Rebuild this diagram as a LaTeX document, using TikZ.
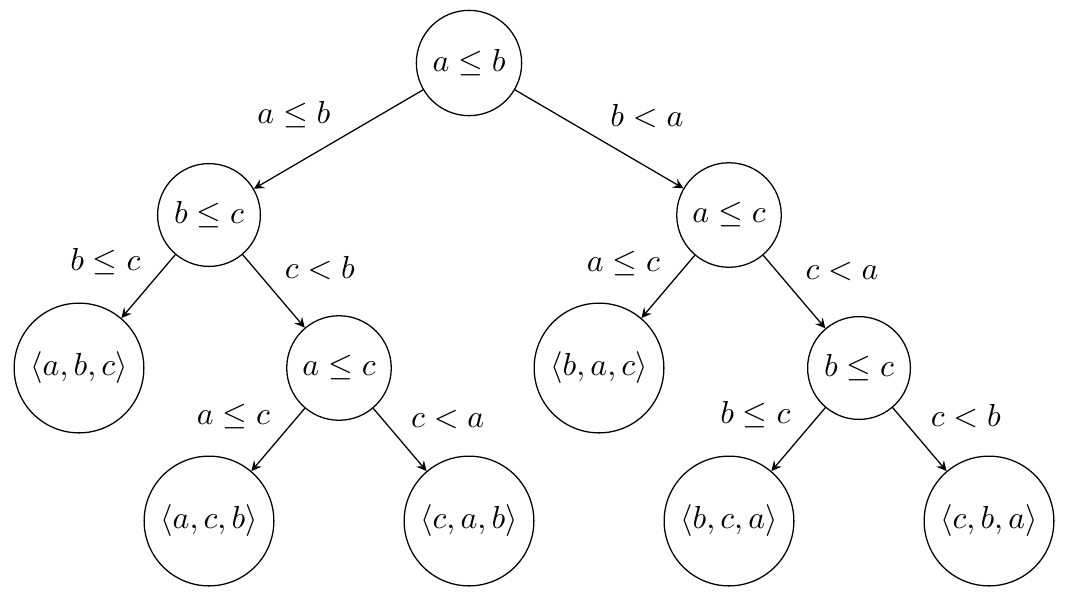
\documentclass[tikz,border=0pt]{standalone}
\begin{document}
\begin{tikzpicture}[x=0.314pt,y=-0.314pt,
  tn/.style={circle,draw},
  arr/.style={-stealth},
  ll/.style={midway,above left,xshift=1pt},
  rl/.style={midway,above right}]
\useasboundingbox (0,0) rectangle (1067,598);
\node[tn] (r) at (469,63) {$a \leq b$};
\node[tn] (l) at (209,215) {$b \leq c$};
\node[tn] (R) at (729,215) {$a \leq c$};
\node[tn] (nll) at (79,368) {$\langle a, b, c\rangle$};
\node[tn] (lr) at (339,368) {$a \leq c$};
\node[tn] (nrl) at (599,368) {$\langle b, a, c\rangle$};
\node[tn] (rr) at (859,368) {$b \leq c$};
\node[tn] (lrl) at (209,521) {$\langle a, c, b\rangle$};
\node[tn] (lrr) at (469,521) {$\langle c, a, b\rangle$};
\node[tn] (rrl) at (729,521) {$\langle b, c, a\rangle$};
\node[tn] (rrr) at (989,521) {$\langle c, b, a\rangle$};
\draw[arr] (r) -- node[ll] (e1) {$a \leq b$} (l);
\draw[arr] (r) -- node[rl] (e2) {$b < a$} (R);
\draw[arr] (l) -- node[ll] (e3) {$b \leq c$} (nll);
\draw[arr] (l) -- node[rl] (e4) {$c < b$} (lr);
\draw[arr] (R) -- node[ll] (e5) {$a \leq c$} (nrl);
\draw[arr] (R) -- node[rl] (e6) {$c < a$} (rr);
\draw[arr] (lr) -- node[ll] (e7) {$a \leq c$} (lrl);
\draw[arr] (lr) -- node[rl] (e8) {$c < a$} (lrr);
\draw[arr] (rr) -- node[ll] (e9) {$b \leq c$} (rrl);
\draw[arr] (rr) -- node[rl] (e10) {$c < b$} (rrr);
\end{tikzpicture}
\end{document}
